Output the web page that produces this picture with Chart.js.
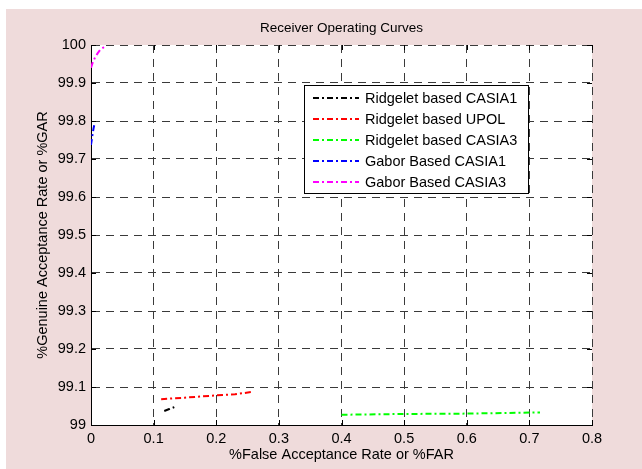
<!DOCTYPE html>
<html>
<head>
<meta charset="utf-8">
<script src="https://cdn.jsdelivr.net/npm/chart.js@4/dist/chart.umd.min.js"></script>
<style>
  html, body { margin: 0; padding: 0; background: #ffffff; }
  #wrap { position: relative; width: 642px; height: 469px; }
  canvas { display: block; }
</style>
</head>
<body>
<div id="wrap"><canvas id="c" width="642" height="469"></canvas></div>
<script>
// ---- data ----
const seriesNames = [
  'Ridgelet based CASIA1',
  'Ridgelet based UPOL',
  'Ridgelet based CASIA3',
  'Gabor Based CASIA1',
  'Gabor Based CASIA3'
];
const seriesColors = ['#000000', '#ff0000', '#00ff00', '#0000ff', '#ff00ff'];

const ridgeletCasia1FAR = [0.117, 0.125, 0.133];
const ridgeletCasia1GAR = [99.037, 99.042, 99.047];

const ridgeletUpolFAR = [0.112, 0.15, 0.2, 0.23, 0.257];
const ridgeletUpolGAR = [99.068, 99.072, 99.078, 99.081, 99.087];

const ridgeletCasia3FAR = [0.40, 0.5, 0.6, 0.717];
const ridgeletCasia3GAR = [99.027, 99.029, 99.030, 99.033];

const gaborCasia1FAR = [0, 0.002, 0.004, 0.006];
const gaborCasia1GAR = [99.737, 99.76, 99.78, 99.796];

const gaborCasia3FAR = [0, 0.003, 0.0064, 0.0105, 0.0144, 0.022];
const gaborCasia3GAR = [99.94, 99.955, 99.967, 99.978, 99.987, 99.996];

const xTickValues = [0, 0.1, 0.2, 0.3, 0.4, 0.5, 0.6, 0.7, 0.8];
const xTickLabels = ['0', '0.1', '0.2', '0.3', '0.4', '0.5', '0.6', '0.7', '0.8'];
const yTickValues = [99, 99.1, 99.2, 99.3, 99.4, 99.5, 99.6, 99.7, 99.8, 99.9, 100];
const yTickLabels = ['99', '99.1', '99.2', '99.3', '99.4', '99.5', '99.6', '99.7', '99.8', '99.9', '100'];

const chartTitle = 'Receiver Operating Curves';
const xTitle = '%False Acceptance Rate or %FAR';
const yTitle = '%Genuine Acceptance Rate or %GAR';

// ---- build datasets ----
const allFAR = [ridgeletCasia1FAR, ridgeletUpolFAR, ridgeletCasia3FAR, gaborCasia1FAR, gaborCasia3FAR];
const allGAR = [ridgeletCasia1GAR, ridgeletUpolGAR, ridgeletCasia3GAR, gaborCasia1GAR, gaborCasia3GAR];
const DASHDOT = [6, 3, 2, 3];

const datasets = seriesNames.map((name, i) => ({
  label: name,
  data: allFAR[i].map((x, j) => ({ x: x, y: allGAR[i][j] })),
  borderColor: seriesColors[i],
  backgroundColor: seriesColors[i],
  borderWidth: 2,
  borderDash: DASHDOT,
  pointRadius: 0,
  showLine: true,
  tension: 0,
  fill: false
}));

const FONT = 'Liberation Sans, Arial, Helvetica, sans-serif';

const bgPlugin = {
  id: 'bg',
  beforeDraw(chart) {
    const ctx = chart.ctx;
    const a = chart.chartArea;
    ctx.save();
    ctx.fillStyle = '#ffffff';
    ctx.fillRect(0, 0, chart.width, chart.height);
    ctx.fillStyle = '#efdbdb';
    ctx.fillRect(6, 9, chart.width - 6, chart.height - 9);
    ctx.fillStyle = '#ffffff';
    ctx.fillRect(a.left, a.top, a.right - a.left, a.bottom - a.top);
    ctx.restore();
  },
  afterDraw(chart) {
    const ctx = chart.ctx;
    const a = chart.chartArea;
    ctx.save();
    ctx.fillStyle = '#000';
    ctx.font = '13.5px ' + FONT;
    ctx.textAlign = 'center';
    ctx.textBaseline = 'middle';
    ctx.fillText(chartTitle, (a.left + a.right) / 2, 28);
    ctx.restore();
  }
};

const ticksPlugin = {
  id: 'innerTicks',
  afterDatasetsDraw(chart) {
    const ctx = chart.ctx;
    const a = chart.chartArea;
    const xs = chart.scales.x, ys = chart.scales.y;
    const L = 5;
    ctx.save();
    ctx.strokeStyle = '#000';
    ctx.lineWidth = 1;
    ctx.setLineDash([]);
    ctx.beginPath();
    xTickValues.forEach(v => {
      const px = Math.round(xs.getPixelForValue(v)) + 0.5;
      ctx.moveTo(px, a.bottom); ctx.lineTo(px, a.bottom - L);
      ctx.moveTo(px, a.top); ctx.lineTo(px, a.top + L);
    });
    yTickValues.forEach(v => {
      const py = Math.round(ys.getPixelForValue(v)) + 0.5;
      ctx.moveTo(a.left, py); ctx.lineTo(a.left + L, py);
      ctx.moveTo(a.right, py); ctx.lineTo(a.right - L, py);
    });
    ctx.stroke();
    ctx.restore();
  }
};

const legendPlugin = {
  id: 'boxLegend',
  afterDatasetsDraw(chart) {
    const ctx = chart.ctx;
    const bx = 304.5, by = 85.5, bw = 224, bh = 108;
    ctx.save();
    ctx.fillStyle = '#ffffff';
    ctx.fillRect(bx, by, bw, bh);
    ctx.strokeStyle = '#000';
    ctx.lineWidth = 1;
    ctx.setLineDash([]);
    ctx.strokeRect(bx, by, bw, bh);
    ctx.font = '14.5px ' + FONT;
    ctx.textBaseline = 'middle';
    ctx.textAlign = 'left';
    chart.data.datasets.forEach((ds, i) => {
      const y = 98 + i * 21;
      ctx.strokeStyle = ds.borderColor;
      ctx.lineWidth = 2;
      ctx.setLineDash(DASHDOT);
      ctx.beginPath();
      ctx.moveTo(313, y);
      ctx.lineTo(359, y);
      ctx.stroke();
      ctx.setLineDash([]);
      ctx.fillStyle = '#000';
      ctx.fillText(ds.label, 365, y + 1);
    });
    ctx.restore();
  }
};

new Chart(document.getElementById('c'), {
  type: 'scatter',
  data: { datasets: datasets },
  plugins: [bgPlugin, ticksPlugin, legendPlugin],
  options: {
    responsive: false,
    animation: false,
    devicePixelRatio: 1,
    layout: { padding: { left: 30, right: 50, top: 45, bottom: 0 } },
    plugins: {
      legend: { display: false },
      tooltip: { enabled: false },
      title: { display: false }
    },
    scales: {
      x: {
        type: 'linear',
        min: 0, max: 0.8,
        afterBuildTicks(scale) { scale.ticks = xTickValues.map(v => ({ value: v })); },
        afterFit(scale) { scale.height = 44; },
        ticks: {
          color: '#000',
          font: { family: FONT, size: 14.5 },
          padding: 5,
          maxRotation: 0,
          autoSkip: false,
          callback: (v, i) => xTickLabels[i]
        },
        grid: { color: '#3a3a3a', lineWidth: 1, drawTicks: false },
        border: { display: true, color: '#000', width: 1, dash: [8, 6] },
        title: {
          display: true, text: xTitle, color: '#000',
          font: { family: FONT, size: 14.5 },
          padding: { top: 0, bottom: 5 }
        }
      },
      y: {
        type: 'linear',
        min: 99, max: 100,
        afterBuildTicks(scale) { scale.ticks = yTickValues.map(v => ({ value: v })); },
        afterFit(scale) { scale.width = 61; },
        ticks: {
          color: '#000',
          font: { family: FONT, size: 14.5 },
          padding: 5,
          autoSkip: false,
          callback: (v, i) => yTickLabels[i]
        },
        grid: { color: '#3a3a3a', lineWidth: 1, drawTicks: false },
        border: { display: true, color: '#000', width: 1, dash: [8, 6] },
        title: {
          display: true, text: yTitle, color: '#000',
          font: { family: FONT, size: 14.5 },
          padding: { top: 4, bottom: 0 }
        }
      }
    }
  }
});
</script>
</body>
</html>
